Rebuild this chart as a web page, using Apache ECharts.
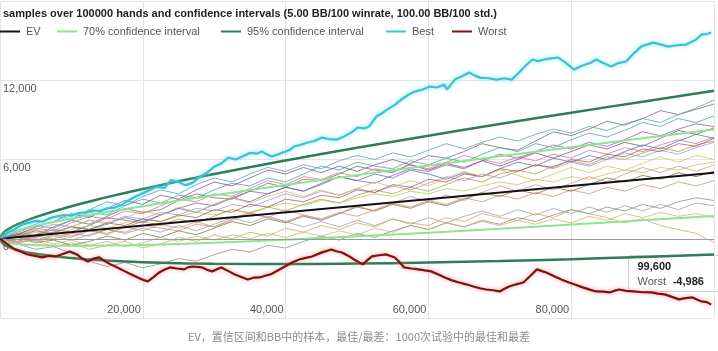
<!DOCTYPE html>
<html>
<head>
<meta charset="utf-8">
<script src="https://cdn.jsdelivr.net/npm/echarts@6/dist/echarts.min.js"></script>
<style>
  html, body { margin: 0; padding: 0; background: #fff; }
  #chart { width: 718px; height: 351px; }
</style>
</head>
<body>
<div id="chart"></div>
<script>
// hands axis for the thin sample runs
const sampleHands = [0, 2500, 5000, 7500, 10000, 12500, 15000, 17500, 20000, 22500, 25000, 27500, 30000, 32500, 35000, 37500, 40000, 42500, 45000, 47500, 50000, 52500, 55000, 57500, 60000, 62500, 65000, 67500, 70000, 72500, 75000, 77500, 80000, 82500, 85000, 87500, 90000, 92500, 95000, 97500, 100000];

// sample runs (BB won)
const samples = [
  { color: '#6b6b6b', values: [0, 400, 250, 900, 1400, 1100, 1700, 2300, 2000, 2200, 2900, 3400, 3100, 3000, 3600, 4200, 3900, 4500, 4400, 4900, 5500, 5200, 5000, 5700, 6300, 6100, 6600, 7200, 6900, 6700, 7400, 8100, 7800, 8300, 8900, 8600, 9100, 9700, 9400, 9800, 10200] },
  { color: '#8e5aa8', values: [0, -200, 300, 700, 500, 1000, 1600, 1400, 1200, 1800, 2300, 2700, 2500, 3100, 3600, 3400, 3900, 3600, 4100, 4700, 4400, 4200, 4800, 5300, 5100, 5600, 5300, 5900, 6400, 6100, 6600, 7100, 6800, 7300, 7000, 7500, 8100, 7800, 8300, 8700, 8500] },
  { color: '#a0a040', values: [0, 200, -100, 300, 100, 600, 400, 900, 1300, 1000, 1500, 1200, 1700, 2200, 1900, 2400, 2100, 2600, 3000, 2700, 3300, 3700, 3400, 3900, 3600, 4100, 4600, 4300, 4900, 5200, 4900, 5500, 5900, 5600, 6200, 6000, 6500, 6900, 6600, 7100, 7400] },
  { color: '#d9a05b', values: [0, -300, -100, -600, -300, -800, -500, -200, -700, -400, 100, -200, 300, 0, 500, 200, 800, 500, 1000, 700, 1200, 900, 1500, 1200, 1000, 1600, 1300, 1900, 1600, 1400, 1900, 1600, 2200, 1900, 1600, 1200, 1500, 1000, 700, 400, -300] },
  { color: '#d46a9a', values: [0, 400, 800, 600, 1200, 1700, 1500, 2100, 1900, 2500, 3000, 2800, 3400, 3200, 3800, 4400, 4100, 4700, 4500, 5000, 4700, 5300, 5100, 5600, 5300, 5800, 6300, 6000, 5700, 6200, 5900, 6400, 6100, 6700, 6400, 6900, 6600, 7100, 7500, 7200, 7700] },
  { color: '#3aa79a', values: [0, 500, 1000, 800, 1400, 2000, 1800, 2500, 3000, 2700, 3300, 3100, 3700, 4200, 4000, 4600, 4300, 4900, 5500, 5200, 5800, 5500, 5300, 5900, 5600, 6100, 5800, 6400, 6900, 6600, 7200, 6900, 7500, 8000, 7700, 8200, 8800, 8500, 9100, 8800, 9300] },
  { color: '#8a8a8a', values: [0, -400, -800, -600, -1100, -1700, -2100, -1800, -2200, -1900, -1500, -1700, -1200, -800, -1000, -500, -700, -200, 200, -100, 400, 100, 600, 1000, 700, 1200, 900, 1400, 1100, 1600, 1300, 1800, 2200, 1900, 2400, 2100, 2600, 2300, 2800, 3100, 2900] },
  { color: '#b8c95a', values: [0, 200, 500, 300, 700, 1000, 800, 1200, 1500, 1300, 1700, 2000, 1800, 2200, 2000, 2400, 2700, 2500, 2900, 2700, 3100, 3400, 3200, 3600, 3400, 3800, 3600, 4000, 4300, 4100, 4500, 4300, 4700, 4500, 4900, 5200, 5000, 5400, 5200, 5600, 5800] },
  { color: '#5a6fa8', values: [0, 300, 100, 500, 900, 700, 1100, 1600, 1300, 1800, 2300, 2000, 2600, 3100, 2800, 3400, 3900, 3600, 4200, 4700, 4400, 4900, 4600, 5200, 4900, 4500, 5000, 4700, 5300, 5800, 5500, 6100, 5800, 6300, 6000, 6600, 7100, 6800, 7400, 7900, 7600] },
  { color: '#e08870', values: [0, -200, 200, 0, 400, 200, 700, 500, 1000, 800, 600, 1100, 900, 1400, 1900, 1600, 1300, 1800, 1500, 2000, 1700, 2200, 2700, 2400, 2900, 2600, 3100, 2800, 3300, 3000, 3500, 3200, 3700, 3400, 3900, 3600, 4100, 3800, 4300, 4000, 4400] },
  { color: '#6f7a3a', values: [0, 100, -300, -100, -500, -200, 200, -100, 400, 100, 600, 300, 800, 1300, 1000, 1500, 1200, 1700, 1400, 1900, 2400, 2100, 2600, 2300, 2800, 2500, 3000, 3500, 3200, 3700, 3400, 3900, 3600, 4100, 4600, 4300, 4800, 4500, 5000, 4700, 5100] },
  { color: '#a98fd0', values: [0, 300, 700, 1100, 900, 1400, 1200, 1700, 1500, 2000, 1800, 2300, 2100, 2600, 2400, 2900, 3400, 3100, 3600, 3300, 3800, 3500, 4000, 3700, 4200, 4700, 4400, 4900, 4600, 5100, 5600, 5300, 5800, 5500, 6000, 6500, 6200, 6700, 6400, 6900, 7300] },
  { color: '#c8b070', values: [0, -300, 0, -400, -100, -500, -200, -600, -300, 100, -200, 200, -100, 300, 0, 400, 100, 500, 200, 600, 300, 800, 500, 1000, 700, 1200, 900, 1300, 1000, 1400, 1100, 1500, 1200, 1700, 1400, 1900, 1600, 2000, 1700, 1900, 1600] },
  { color: '#b05050', values: [0, 200, 600, 400, 900, 700, 1200, 1000, 1500, 1300, 1800, 1600, 2200, 2000, 2600, 2400, 3000, 2800, 3300, 3100, 3700, 3500, 4100, 3900, 4500, 4300, 4900, 4700, 5300, 5100, 5600, 5400, 6000, 5800, 6400, 6200, 6800, 6600, 7200, 7000, 7600] },
  { color: '#4f9fb5', values: [0, 600, 1100, 1700, 1500, 2200, 2800, 2500, 3200, 3700, 3400, 4100, 4600, 4300, 4900, 5400, 5100, 5600, 5300, 5900, 6300, 6000, 6500, 6200, 6700, 7200, 6800, 7300, 7700, 7400, 7900, 8300, 8000, 8500, 8200, 8700, 9100, 8800, 9400, 9900, 10500] },
  { color: '#7b4f8f', values: [0, 300, 900, 1300, 1900, 1600, 2300, 2900, 2600, 3300, 3000, 3700, 4300, 4000, 4600, 5200, 4900, 5400, 5000, 5500, 5100, 5600, 6000, 5600, 5200, 5700, 5400, 5900, 5500, 6000, 6500, 6100, 6600, 7100, 6800, 7300, 7000, 7600, 8200, 7900, 8400] },
  { color: '#c7c25a', values: [0, 200, 700, 400, 900, 1400, 1100, 1600, 2100, 1800, 2400, 2000, 2600, 3100, 2700, 3200, 3600, 3200, 3700, 3300, 3800, 4300, 3900, 4400, 4000, 4600, 5100, 4700, 5200, 4800, 4400, 4900, 5400, 5000, 5500, 5200, 5700, 6200, 5800, 6300, 6000] },
  { color: '#d98c8c', values: [0, -300, 100, 500, 200, 700, 300, 900, 600, 1100, 800, 1300, 900, 1500, 2000, 1600, 2200, 1800, 1400, 1900, 2500, 2100, 2700, 3200, 2800, 3300, 2900, 3500, 4000, 3600, 4100, 3700, 4200, 4700, 4300, 4900, 5400, 5000, 5500, 5100, 5600] },
  { color: '#9aa0a0', values: [0, 100, -200, 200, -100, 300, 700, 400, 800, 500, 1000, 600, 1100, 1600, 1200, 1700, 1300, 900, 1300, 900, 1400, 1000, 1500, 1100, 1600, 1200, 1700, 2100, 1700, 2200, 1800, 2300, 1900, 2400, 2000, 2500, 2100, 2600, 2200, 2700, 2500] }
];

// EV line end points
const evHands = [0, 100000];
const evValues = [0, 5000];

// confidence interval curves
const ciHands = [0, 500, 1000, 2500, 5000, 10000, 15000, 20000, 30000, 40000, 50000, 60000, 70000, 80000, 90000, 100000];
const ci70Upper = [0, 257, 378, 643, 983, 1536, 2019, 2465, 3294, 4072, 4817, 5537, 6241, 6930, 7608, 8276];
const ci70Lower = [0, -207, -278, -393, -483, -536, -519, -465, -294, -72, 183, 463, 759, 1070, 1392, 1724];
const ci95Upper = [0, 463, 670, 1105, 1636, 2460, 3151, 3772, 4895, 5920, 6883, 7801, 8686, 9544, 10380, 11198];
const ci95Lower = [0, -413, -570, -855, -1136, -1460, -1651, -1772, -1895, -1920, -1883, -1801, -1686, -1544, -1380, -1198];

// best run of 1000 trials
const bestHands = [0, 1000, 2000, 3000, 4000, 5000, 6000, 7000, 8000, 9000, 10000, 11000, 12000, 13000, 14000, 15000, 16000, 17000, 18000, 19000, 20000, 21000, 22000, 23000, 24000, 25000, 26000, 27000, 28000, 29000, 30000, 31000, 32000, 33000, 34000, 35000, 36000, 36700, 37500, 38100, 39000, 39600, 40500, 41200, 42000, 43100, 44000, 45100, 46000, 47200, 48200, 49200, 50100, 51000, 51700, 52700, 53500, 54200, 55200, 56200, 57200, 58100, 59200, 60200, 61200, 62200, 62600, 63700, 64700, 65700, 66500, 67200, 68400, 69600, 70600, 71700, 72700, 73600, 74600, 75400, 76200, 77200, 78200, 79300, 80400, 81500, 82800, 83500, 84500, 85600, 86600, 87700, 88700, 89800, 90600, 91500, 92600, 93600, 94800, 96100, 97500, 98200, 99000, 99600];
const bestValues = [0, 450, 700, 1050, 1200, 1350, 1300, 1550, 1700, 1800, 1750, 1950, 2000, 2150, 2100, 2300, 2350, 2550, 2900, 3200, 3450, 3700, 3950, 3850, 4450, 4300, 4050, 4250, 4700, 5000, 5450, 5700, 6150, 6000, 6250, 6500, 6450, 6600, 6350, 6230, 6400, 6530, 6700, 6980, 7100, 7290, 7400, 7660, 7550, 7510, 7750, 8040, 8420, 8350, 8500, 9250, 9500, 9780, 10100, 10540, 10900, 11140, 11300, 11520, 11450, 11670, 11300, 12050, 12300, 12580, 12350, 12200, 12150, 12050, 12150, 12050, 12580, 13100, 13570, 13450, 13570, 13650, 13720, 13300, 12810, 13100, 13340, 13570, 13300, 13040, 13300, 13420, 14000, 14550, 14700, 14850, 14700, 14550, 14650, 14700, 15080, 15450, 15500, 15610];

// worst run of 1000 trials
const worstHands = [0, 1000, 2100, 3000, 3900, 4900, 5900, 6800, 7800, 8800, 9800, 10800, 11500, 12300, 13100, 13900, 14700, 15500, 16500, 17500, 18400, 19300, 20000, 20700, 21500, 22300, 23000, 23800, 24800, 25800, 26400, 27000, 28300, 29000, 29700, 30400, 31000, 32000, 32900, 33800, 34700, 35500, 36400, 37100, 37900, 38900, 39900, 40900, 41900, 42800, 43700, 45000, 46400, 47100, 47900, 48800, 49600, 50800, 51500, 52100, 53100, 54100, 55300, 56000, 56600, 57600, 58600, 59500, 60400, 61400, 62300, 63300, 64300, 65300, 66300, 67200, 68100, 69000, 70000, 70600, 71300, 72300, 73300, 74300, 75200, 75900, 76500, 77700, 78700, 79700, 80700, 81600, 82600, 83500, 84500, 85400, 86000, 86700, 87700, 88700, 90000, 91200, 92100, 93100, 94100, 95100, 96000, 97000, 97600, 98200, 99000, 99600];
const worstValues = [0, -400, -810, -1000, -1190, -1300, -1415, -1300, -1340, -1150, -960, -1190, -1500, -1720, -1500, -1415, -1700, -1940, -2200, -2470, -2700, -2930, -3100, -3230, -2900, -2550, -2350, -2170, -2250, -2320, -2150, -2100, -2170, -2350, -2470, -2300, -2170, -2450, -2700, -2900, -3080, -2950, -2930, -2800, -2700, -2400, -2100, -1800, -1570, -1450, -1340, -1050, -810, -950, -1040, -1300, -1570, -1940, -1600, -1340, -1250, -1190, -1415, -1800, -2170, -2250, -2320, -2400, -2470, -2700, -2930, -3150, -3310, -3450, -3610, -3750, -3840, -3900, -3990, -3800, -3610, -3450, -3310, -2800, -2320, -2450, -2550, -2850, -3100, -3310, -3500, -3680, -3850, -3990, -4000, -4060, -3950, -3840, -3950, -3990, -4050, -4060, -4150, -4210, -4400, -4590, -4500, -4440, -4600, -4740, -4800, -4986];

const titleText = 'samples over 100000 hands and confidence intervals (5.00 BB/100 winrate, 100.00 BB/100 std.)';
const captionText = 'EV，置信区间和BB中的样本，最佳/最差：1000次试验中的最佳和最差';

const colors = {
  ev: '#111111',
  ci70: '#8fe48f',
  ci95: '#2f7d57',
  best: '#3cc0d8',
  worst: '#7a1414'
};

const pairs = (xs, ys) => xs.map((x, i) => [x, ys[i]]);
const fmt = v => v.toLocaleString('en-US');

const chart = echarts.init(document.getElementById('chart'));

const series = [];
samples.forEach((s, i) => {
  series.push({
    name: 'sample' + i,
    type: 'line',
    data: pairs(sampleHands, s.values),
    showSymbol: false,
    silent: true,
    z: 1,
    lineStyle: { color: s.color, width: 0.9, opacity: 0.85 }
  });
});

const ciLine = (name, ys, color, width) => ({
  name,
  type: 'line',
  data: pairs(ciHands, ys),
  smooth: true,
  showSymbol: false,
  z: 3,
  itemStyle: { color },
  lineStyle: { color, width }
});

series.push(ciLine('70% confidence interval', ci70Upper, colors.ci70, 2));
series.push(ciLine('70% confidence interval', ci70Lower, colors.ci70, 2));
series.push(ciLine('95% confidence interval', ci95Upper, colors.ci95, 2.5));
series.push(ciLine('95% confidence interval', ci95Lower, colors.ci95, 2.5));

series.push({
  name: 'EV',
  type: 'line',
  data: pairs(evHands, evValues),
  showSymbol: false,
  z: 4,
  itemStyle: { color: colors.ev },
  lineStyle: { color: colors.ev, width: 2 },
  markLine: {
    silent: true,
    symbol: 'none',
    label: { show: false },
    lineStyle: { color: '#9a9a9a', width: 1, type: 'solid' },
    data: [{ yAxis: 0 }]
  }
});

series.push({
  name: 'Best',
  type: 'line',
  data: pairs(bestHands, bestValues),
  showSymbol: false,
  z: 5,
  itemStyle: { color: colors.best },
  lineStyle: { color: colors.best, width: 2.2, shadowColor: 'rgba(120,230,240,0.9)', shadowBlur: 4 }
});

series.push({
  name: 'Worst',
  type: 'line',
  data: pairs(worstHands, worstValues),
  showSymbol: false,
  z: 5,
  itemStyle: { color: colors.worst },
  lineStyle: { color: colors.worst, width: 2.2, shadowColor: 'rgba(255,120,120,0.8)', shadowBlur: 4 }
});

const legendLefts = { 'EV': 0, '70% confidence interval': 57, '95% confidence interval': 221, 'Best': 386, 'Worst': 452 };
const legends = Object.keys(legendLefts).map(name => ({
  data: [name],
  left: legendLefts[name],
  top: 26,
  icon: 'rect',
  itemWidth: 20,
  itemHeight: 2,
  itemGap: 0,
  padding: 0,
  selectedMode: false,
  textStyle: { color: '#555', fontSize: 11, fontFamily: 'Liberation Sans, Arial, sans-serif', padding: [0, 0, 0, 1] }
}));

const lastN = worstHands[worstHands.length - 1];
const lastV = worstValues[worstValues.length - 1];

const option = {
  backgroundColor: '#ffffff',
  animation: false,
  title: {
    text: titleText,
    left: 3,
    top: 8,
    padding: 0,
    textStyle: { fontSize: 11, fontWeight: 'bold', color: '#222', fontFamily: 'Liberation Sans, Arial, sans-serif' }
  },
  legend: legends,
  grid: { left: 0, right: 4, top: 1, bottom: 33 },
  xAxis: {
    type: 'value',
    min: 0,
    max: 100000,
    interval: 20000,
    axisLine: { show: true, lineStyle: { color: '#d0d0d0' } },
    axisTick: { show: false },
    splitLine: { show: true, lineStyle: { color: '#e4e4e4' } },
    axisLabel: {
      inside: true,
      margin: 3,
      align: 'right',
      showMinLabel: false,
      showMaxLabel: false,
      color: '#555',
      fontSize: 11,
      fontFamily: 'Liberation Sans, Arial, sans-serif',
      padding: [0, 2, 0, 0],
      formatter: v => fmt(v)
    }
  },
  yAxis: {
    type: 'value',
    min: -6000,
    max: 18000,
    interval: 6000,
    axisLine: { show: false },
    axisTick: { show: false },
    splitLine: { show: true, lineStyle: { color: '#e4e4e4' } },
    axisLabel: {
      inside: true,
      margin: 3,
      verticalAlign: 'top',
      padding: [3, 0, 0, 0],
      showMinLabel: false,
      showMaxLabel: false,
      color: '#555',
      fontSize: 11,
      fontFamily: 'Liberation Sans, Arial, sans-serif',
      formatter: v => fmt(v)
    }
  },
  series,
  graphic: [
    {
      type: 'group',
      left: 628,
      top: 255,
      z: 100,
      children: [
        {
          type: 'rect',
          shape: { x: 0, y: 0, width: 92, height: 36, r: 2 },
          style: { fill: 'rgba(255,255,255,0.95)', stroke: '#cfcfcf', lineWidth: 1 }
        },
        {
          type: 'text',
          x: 9,
          y: 4,
          style: {
            text: '{b|' + fmt(lastN) + '}\n{n|Worst}  {b|' + fmt(lastV) + '}',
            rich: {
              b: { fontSize: 11, fontWeight: 'bold', fill: '#222', fontFamily: 'Liberation Sans, Arial, sans-serif', lineHeight: 15 },
              n: { fontSize: 11, fill: '#555', fontFamily: 'Liberation Sans, Arial, sans-serif', lineHeight: 15 }
            }
          }
        }
      ]
    },
    {
      type: 'text',
      left: 'center',
      top: 331,
      style: { text: captionText, fill: '#8a8a8a', fontSize: 11, fontFamily: 'Noto Sans CJK SC, sans-serif' }
    }
  ]
};

chart.setOption(option);
</script>
</body>
</html>
